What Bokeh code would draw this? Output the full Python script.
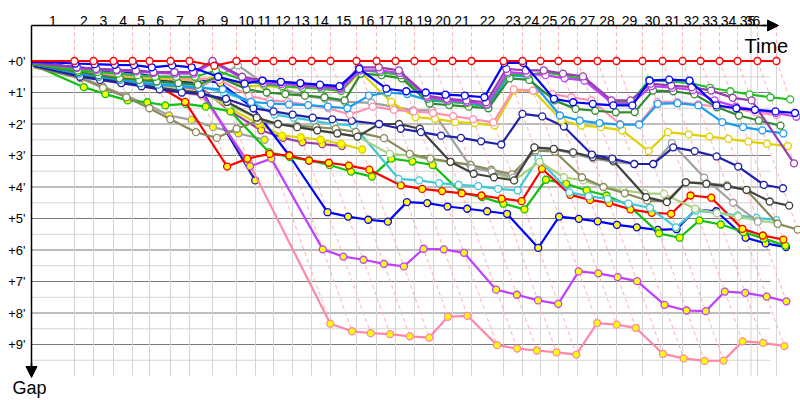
from bokeh.plotting import figure
from bokeh.models import Range1d, Arrow, NormalHead
from bokeh.core.properties import value
from bokeh.embed import file_html
from bokeh.resources import INLINE

N = None
# leader cumulative time (minutes) at the end of each lap, lap 0..36
lap_time = [0.00, 3.82, 5.51, 7.29, 8.98, 10.49, 12.36, 14.04, 16.09, 18.22, 19.91,
            21.51, 23.20, 24.89, 26.58, 28.89, 30.67, 32.36, 34.04, 35.73, 37.42,
            39.11, 41.96, 43.64, 45.24, 46.84, 48.53, 50.31, 52.00, 54.31, 56.09,
            57.87, 59.47, 61.16, 62.76, 64.53, 66.22]
lap_labels = [str(i) for i in range(1, 37)]
gap_ticks = list(range(0, 10))
gap_labels = ["+%d'" % g for g in gap_ticks]

# gap to leader (minutes) per lap, lap 0..36
red_w = [0.0] * 8 + [0.15] + [0.0] * 28
blue_w = [0.02,0.08,0.10,0.12,0.13,0.20,0.14,0.20,0.50,0.72,0.62,0.66,0.70,0.75,0.80,0.25,0.88,0.96,1.00,1.07,1.10,1.15,0.06,0.06,1.20,1.31,1.36,1.41,1.41,0.62,0.59,0.62,1.41,1.50,1.55,1.60,1.65]
purple_w = [0.05,0.20,0.25,0.28,0.30,0.35,0.35,0.35,0.00,0.50,0.62,0.67,0.72,0.78,0.85,0.20,0.20,0.30,1.10,1.20,1.25,1.31,0.25,0.30,0.30,0.40,0.49,1.25,1.25,0.72,0.78,0.83,0.94,1.17,1.25,3.25,N]
violet_w = [0.05,0.22,0.28,0.30,0.33,0.38,0.40,0.40,0.05,0.55,0.70,0.73,0.78,0.82,0.90,0.30,0.30,0.38,1.15,1.25,1.30,1.38,0.35,0.40,0.45,0.55,0.62,1.35,1.35,0.80,0.85,0.92,1.25,1.45,1.55,1.65,1.77]
green_w = [0.08,0.30,0.35,0.40,0.45,0.50,0.50,0.50,0.30,0.60,0.75,0.80,0.85,0.88,0.95,0.30,0.35,0.45,1.20,1.28,1.33,1.40,0.40,0.45,0.36,0.45,0.59,1.30,1.30,0.60,0.65,0.70,0.85,0.96,1.06,1.15,1.22]
dkgreen_w = [0.10,0.35,0.45,0.55,0.60,0.65,0.70,0.75,0.50,0.90,1.00,1.05,1.10,1.15,1.25,0.40,0.45,0.55,1.35,1.40,1.45,1.50,0.55,0.60,1.25,1.52,1.58,1.63,1.62,0.94,0.96,1.06,1.47,1.73,1.89,2.05,N]
dodger_w = [0.10,0.40,0.50,0.60,0.70,0.75,0.80,0.85,0.90,1.30,1.35,1.38,1.40,1.45,1.50,1.10,1.00,1.05,1.25,1.30,1.35,1.45,0.45,0.50,1.73,1.89,1.97,2.02,2.02,1.36,1.34,1.41,1.94,2.10,2.20,2.30,N]
pink_w = [0.10,0.35,0.40,0.45,0.50,0.50,0.55,0.55,0.60,1.10,1.25,1.30,1.40,1.50,1.70,1.45,1.55,1.60,1.65,1.75,1.85,1.95,0.90,0.94,1.05,1.15,1.25,2.00,2.00,1.30,1.30,1.38,1.45,1.52,1.63,1.72,N]
yellow_w = [0.10,0.30,0.40,0.50,0.55,0.55,0.60,0.60,0.50,0.80,0.80,0.82,0.85,0.88,0.95,0.35,1.30,1.78,1.84,1.94,1.97,2.05,0.94,0.94,1.89,2.05,2.10,2.20,2.86,2.26,2.33,2.40,2.47,2.56,2.63,2.70,N]
navy_w = [0.15,0.50,0.60,0.70,0.80,0.90,1.00,1.05,1.20,1.50,1.60,1.70,1.80,1.85,1.90,2.00,2.15,2.26,2.37,2.44,2.55,2.65,1.68,1.76,2.08,2.97,3.10,3.27,3.27,2.74,2.86,3.03,3.35,3.93,4.04,N,N]
dkgrey_w = [0.15,0.45,0.55,0.65,0.75,0.85,0.95,1.00,1.30,1.80,2.00,2.10,2.20,2.30,2.40,2.00,2.00,2.15,3.20,3.58,3.69,3.79,2.74,2.79,2.90,3.05,3.16,4.32,4.48,3.85,3.90,3.98,4.09,4.46,4.59,N,N]
grey_w = [0.10,0.45,0.55,0.65,0.70,0.75,0.80,0.85,0.50,0.14,0.70,0.90,1.10,1.20,1.30,1.33,1.45,1.57,1.57,3.40,3.50,3.70,2.75,2.80,2.95,3.10,3.20,3.27,3.27,2.61,3.70,4.50,5.10,N,N,N,N]
olive_w = [0.20,0.55,0.85,1.15,1.50,1.85,2.26,2.44,2.15,1.90,2.00,2.05,2.10,2.15,2.25,2.45,2.95,3.10,3.20,3.30,3.45,3.60,2.84,2.88,3.69,4.00,4.20,4.43,4.45,3.85,3.88,3.95,4.10,5.17,5.35,N,N]
ltgreen_w = [0.10,0.40,0.50,0.60,0.70,0.80,0.90,1.00,1.40,1.80,2.00,2.10,2.20,2.30,2.40,2.95,3.00,3.13,3.21,3.30,3.53,3.79,3.20,3.69,3.79,4.00,4.11,4.20,4.22,4.69,4.83,4.94,5.06,5.15,N,N,N]
cyan_w = [0.10,0.35,0.45,0.55,0.65,0.70,0.75,0.80,1.00,1.30,1.70,1.80,1.90,2.00,2.05,3.74,3.79,3.88,3.93,3.97,4.06,4.11,3.10,4.17,4.29,4.38,4.53,4.66,5.28,4.75,4.82,4.90,4.98,5.05,N,N,N]
red_y = [0.10,0.30,0.45,0.55,0.65,0.80,1.30,3.35,3.10,2.95,3.00,3.16,3.23,3.32,3.45,3.95,4.06,4.13,4.20,4.27,4.37,4.45,3.42,4.25,4.41,4.51,4.71,4.82,4.85,4.27,4.34,5.33,5.54,5.67,N,N,N]
green_y = [0.12,0.83,1.05,1.25,1.31,1.41,1.36,1.45,1.60,2.90,3.05,3.16,3.30,3.51,3.67,3.10,3.19,3.30,4.18,4.32,4.53,4.71,3.77,3.90,4.11,4.27,4.59,5.47,5.61,5.06,5.19,5.43,5.64,5.86,N,N,N]
blue_y = [0.05,0.20,0.25,0.30,0.40,0.50,0.50,0.55,0.70,1.50,3.00,4.80,4.94,5.04,5.10,4.48,4.51,4.62,4.69,4.77,4.85,5.93,4.94,5.01,5.09,5.20,5.28,5.36,5.34,4.72,4.77,5.61,5.79,5.91,N,N,N]
violet_y = [0.10,0.30,0.40,0.50,0.60,0.70,0.80,0.90,3.34,3.10,5.98,6.21,6.31,6.44,6.52,5.96,5.98,6.09,7.26,7.42,7.60,7.71,6.68,6.74,6.86,6.99,7.74,7.92,7.94,7.32,7.36,7.48,7.63,N,N,N,N]
pink_y = [0.15,0.50,0.60,0.70,0.80,0.90,1.00,1.10,3.20,8.34,8.58,8.64,8.67,8.74,8.78,8.12,8.09,9.02,9.13,9.19,9.25,9.32,8.32,8.37,8.47,9.30,9.44,9.52,9.51,8.90,8.95,9.05,N,N,N,N,N]
navy_y = [0.05,0.20,0.30,0.40,0.50,0.60,0.65,0.70,3.79] + [N] * 28
yellow_y = [0.10,0.35,0.50,0.60,0.70,0.80,0.85,0.90,1.50,2.00,2.37,2.42,2.50,2.63,2.81] + [N] * 22
purple_y = [0.10,0.40,0.50,0.60,0.65,0.70,0.75,0.80,1.60,2.20,2.44,2.58,2.64,2.70] + [N] * 23
grey_y = [0.15,0.50,0.80,1.10,1.40,1.73,1.87,2.10,2.30,2.50] + [N] * 27

# (gaps, line colour, marker fill) drawn bottom to top
series = [
    (grey_y, "#a0a0a0", "#ffff00"),
    (purple_y, "#9a3cb0", "#ffff00"),
    (yellow_y, "#e0d000", "#ffff00"),
    (navy_y, "#1c1ca8", "#ffff00"),
    (pink_y, "#ff88a8", "#ffff00"),
    (violet_y, "#c040ff", "#ffff00"),
    (blue_y, "#0000ff", "#ffff00"),
    (green_y, "#10c010", "#ffff00"),
    (red_y, "#ff0000", "#ffff00"),
    (cyan_w, "#40c8d8", "white"),
    (ltgreen_w, "#a8d080", "white"),
    (olive_w, "#8a8a5a", "white"),
    (grey_w, "#a0a0a0", "white"),
    (dkgrey_w, "#404040", "white"),
    (navy_w, "#2020a8", "white"),
    (yellow_w, "#e0d000", "white"),
    (pink_w, "#ff90b0", "white"),
    (dodger_w, "#1a9cf0", "white"),
    (dkgreen_w, "#2e8b2e", "white"),
    (green_w, "#20c020", "white"),
    (violet_w, "#c040ff", "white"),
    (purple_w, "#9a3cb0", "white"),
    (blue_w, "#0000ff", "white"),
    (red_w, "#ff0000", "white"),
]

# screen mapping: x px = 31 + 11.25*t, y px = 60.5 + 31.5*g
XS, X0, YS, Y0 = 11.25, 31.0, 31.5, 60.5
def tx(px):
    return (px - X0) / XS
def gy(py):
    return (py - Y0) / YS

W, H = 800, 400
p = figure(width=W, height=H, output_backend="svg", toolbar_location=None,
           x_range=Range1d(tx(0), tx(W)), y_range=Range1d(gy(H), gy(0)),
           x_axis_type=None, y_axis_type=None, min_border=0)
p.outline_line_color = None
p.grid.visible = False
p.background_fill_color = "white"

t_grid_end = tx(770)
g_bottom = gy(375)
g_axis = gy(25)

# horizontal grid
halfs = [i * 0.5 for i in range(1, 20)]
p.segment([0] * len(halfs), halfs, [t_grid_end] * len(halfs), halfs,
          line_color=["#7a7a7a" if h == int(h) else "#d4d4d4" for h in halfs], line_width=1)
# vertical lap grid
T = lap_time[1:]
p.segment(T, [0] * len(T), T, [g_bottom] * len(T), line_color="#d4d4d4", line_width=1)
p.segment([tx(750.5)], [g_axis], [tx(750.5)], [g_bottom], line_color="#d4d4d4", line_width=1)

# lap diagonals (constant race time) from leader down to the last car on that lap
gmax = []
for k in range(1, 37):
    vals = [s[0][k] for s in series if s[0][k] is not None]
    gmax.append(max(vals))
p.segment(T, [g_axis] * len(T), T, [0] * len(T), line_color="#ffb0b0", line_dash="4 3", line_width=1)
p.segment(T, [0] * len(T), [t + g for t, g in zip(T, gmax)], gmax,
          line_color="#ffb0b0", line_dash="4 3", line_width=1)

# series
for gaps, col, fill in series:
    xs = [lap_time[k] + g for k, g in enumerate(gaps) if g is not None]
    ys = [g for g in gaps if g is not None]
    p.line(xs, ys, line_color=col, line_width=2.2)
    p.scatter(xs[1:], ys[1:], size=7, fill_color=fill, line_color=col, line_width=1.3)

# axes
p.segment([0], [g_axis], [0], [gy(366)], line_color="black", line_width=1.5)
p.segment([0], [g_axis], [tx(766)], [g_axis], line_color="black", line_width=1.5)
p.add_layout(Arrow(end=NormalHead(size=11, fill_color="black", line_color="black"),
                   x_start=0, y_start=gy(362), x_end=0, y_end=gy(377), line_width=1.5))
p.add_layout(Arrow(end=NormalHead(size=11, fill_color="black", line_color="black"),
                   x_start=tx(762), y_start=g_axis, x_end=tx(778), y_end=g_axis, line_width=1.5))

# tick labels
p.text([tx(25)] * len(gap_ticks), gap_ticks, text=gap_labels, text_align="right",
       text_baseline="middle", text_font=value("Liberation Sans"), text_font_size="13px",
       text_color="black")
mids = [min((lap_time[k - 1] + lap_time[k]) / 2, tx(752)) for k in range(1, 37)]
p.text(mids, [gy(25.5)] * len(mids), text=lap_labels, text_align="center",
       text_baseline="bottom", text_font=value("Liberation Sans"), text_font_size="14px",
       text_color="black")
p.text([tx(744)], [gy(45)], text=["Time"], text_align="left", text_baseline="alphabetic",
       text_font=value("Liberation Sans"), text_font_size="20px", text_color="black")
p.text([tx(12)], [gy(387)], text=["Gap"], text_align="left", text_baseline="alphabetic",
       text_font=value("Liberation Sans"), text_font_size="18px", text_color="black")

open("out.html", "w").write(file_html(p, INLINE))
